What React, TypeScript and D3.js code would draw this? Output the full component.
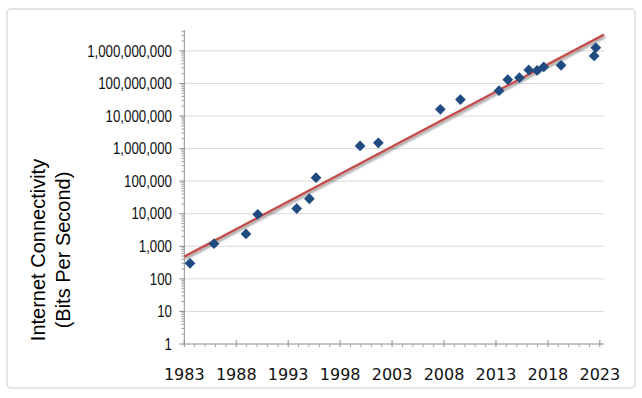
import * as d3 from 'd3';

// readings (fractional years, bits per second)
const years = [1983.55, 1985.86, 1988.94, 1990.07, 1993.82, 1995.04, 1995.68, 1999.92, 2001.68, 2007.65,
  2009.58, 2013.3, 2014.14, 2015.26, 2016.16, 2016.96, 2017.6, 2019.27, 2022.45, 2022.61];
const bps = [300, 1200, 2400, 9600, 14400, 28800, 128000, 1.2e6, 1.5e6, 1.6e7,
  3.2e7, 6e7, 1.3e8, 1.5e8, 2.6e8, 2.5e8, 3.2e8, 3.6e8, 7e8, 1.25e9];
const xTickYears = [1983, 1988, 1993, 1998, 2003, 2008, 2013, 2018, 2023];
const yTickValues = [1, 10, 100, 1e3, 1e4, 1e5, 1e6, 1e7, 1e8, 1e9];
const yTitleLines = ['Internet Connectivity', '(Bits Per Second)'];

const W = 642, H = 398;
const left = 184.3, right = 604, top = 30, bottom = 344;

export default function App() {
  const x = d3.scaleLinear().domain([1983, 2023.4]).range([left, right]);
  const y = d3.scaleLog().domain([1, Math.pow(10, 9.64)]).range([bottom, top]);

  // exponential trendline (least squares on log10 values)
  const logs = bps.map(v => Math.log10(v));
  const mx = d3.mean(years)!, my = d3.mean(logs)!;
  const sxy = d3.sum(years, (t, i) => (t - mx) * (logs[i] - my));
  const sxx = d3.sum(years, t => (t - mx) * (t - mx));
  const slope = sxy / sxx;
  const trend = (t: number) => Math.pow(10, my + slope * (t - mx));
  const [x0, x1] = x.domain();
  const trendPath = d3.line<number>().x(t => x(t)).y(t => y(trend(t)))([x0, x1]);

  const minorY = y.ticks().filter(v => !yTickValues.includes(v) && v < y.domain()[1]);
  const minorX = d3.range(1983, 2024).filter(t => !xTickYears.includes(t));
  const diamond = d3.symbol(d3.symbolSquare, 58)()!;
  const fmt = d3.format(',');

  return (
    <svg width={W} height={H} style={{ position: 'absolute', left: 0, top: 0 }}>
      <defs>
        <filter id="shadow" x="-10%" y="-10%" width="120%" height="130%">
          <feDropShadow dx="1" dy="2" stdDeviation="1.2" floodColor="#000" floodOpacity="0.4" />
        </filter>
      </defs>
      <rect x={0} y={0} width={W} height={H} fill="#fff" />
      <rect x={7} y={9} width={628} height={379} rx={4} fill="#fff" stroke="#dcdcdc" strokeWidth={1.5} />

      {/* gridlines */}
      {yTickValues.slice(1).map(v => (
        <line key={v} x1={left} x2={right} y1={y(v)} y2={y(v)} stroke="#d9d9d9" strokeWidth={1} />
      ))}

      {/* y axis */}
      <line x1={left} x2={left} y1={top} y2={bottom} stroke="#8c8c8c" />
      {minorY.map(v => (
        <line key={v} x1={left - 3} x2={left} y1={y(v)} y2={y(v)} stroke="#a6a6a6" />
      ))}
      {yTickValues.map(v => (
        <g key={v}>
          <line x1={left - 5} x2={left} y1={y(v)} y2={y(v)} stroke="#8c8c8c" />
          <g transform={`translate(172,${y(v)}) scale(0.83,1)`}>
            <text x={0} y={0} dy="0.36em" textAnchor="end" fontFamily="'Liberation Sans', Arial, sans-serif"
              fontSize={16} fill="#111">{fmt(v)}</text>
          </g>
        </g>
      ))}

      {/* x axis */}
      <line x1={left} x2={right} y1={bottom} y2={bottom} stroke="#8c8c8c" />
      {minorX.map(t => (
        <line key={t} x1={x(t)} x2={x(t)} y1={bottom} y2={bottom + 3} stroke="#a6a6a6" />
      ))}
      {xTickYears.map(t => (
        <g key={t}>
          <line x1={x(t)} x2={x(t)} y1={bottom - 4} y2={bottom + 3} stroke="#8c8c8c" />
          <text x={x(t)} y={380} textAnchor="middle" fontFamily="'DejaVu Sans', sans-serif" fontSize={16} fill="#111">{t}</text>
        </g>
      ))}

      {/* trendline */}
      <path d={trendPath!} fill="none" stroke="#c0504d" strokeWidth={2.5} filter="url(#shadow)" />

      {/* data points */}
      {years.map((t, i) => (
        <path key={i} d={diamond} transform={`translate(${x(t)},${y(bps[i])}) rotate(45)`} fill="#1f4b80" />
      ))}

      {/* y axis title */}
      <text transform="translate(45,250) rotate(-90)" textAnchor="middle" fontFamily="'Liberation Sans', Arial, sans-serif" fontSize={20} fill="#000">
        <tspan x={0} y={0}>{yTitleLines[0]}</tspan>
        <tspan x={0} y={25}>{yTitleLines[1]}</tspan>
      </text>
    </svg>
  );
}
